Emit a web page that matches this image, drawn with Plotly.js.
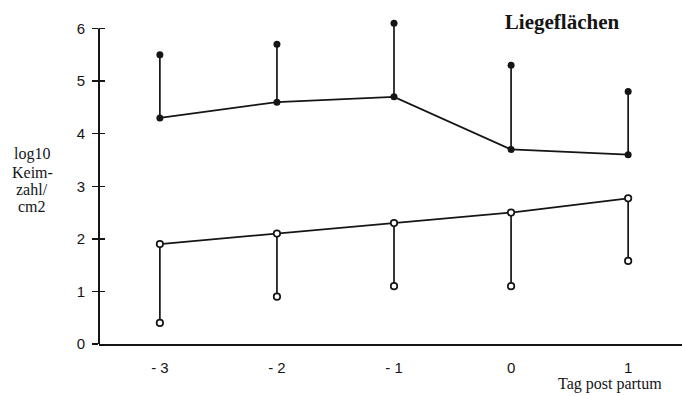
<!DOCTYPE html>
<html><head><meta charset="utf-8">
<script src="https://cdn.plot.ly/plotly-3.0.1.min.js"></script>
<style>html,body{margin:0;padding:0;background:#fff}#c{width:682px;height:396px}</style>
</head><body><div id="c"></div>
<script>
const days = [-3, -2, -1, 0, 1];
const dayLabels = ['- 3', '- 2', '- 1', '0', '1'];
const upperMean = [4.3, 4.6, 4.7, 3.7, 3.6];
const upperTop = [5.5, 5.7, 6.1, 5.3, 4.8];
const lowerMean = [1.9, 2.1, 2.3, 2.5, 2.77];
const lowerBottom = [0.4, 0.9, 1.1, 1.1, 1.58];
const yTitleLines = ['log10', 'Keim-', 'zahl/', 'cm2'];

function segs(a, b) {
  const xs = [], ys = [];
  days.forEach((d, i) => { xs.push(d, d, null); ys.push(a[i], b[i], null); });
  return {x: xs, y: ys};
}
const su = segs(upperMean, upperTop), sl = segs(lowerMean, lowerBottom);
const ink = '#151515';
const traces = [
  {x: su.x, y: su.y, mode: 'lines', line: {color: ink, width: 1.7}, hoverinfo: 'skip'},
  {x: sl.x, y: sl.y, mode: 'lines', line: {color: ink, width: 1.7}, hoverinfo: 'skip'},
  {x: days, y: upperMean, mode: 'lines+markers', line: {color: ink, width: 1.7},
   marker: {color: ink, size: 7}},
  {x: days, y: upperTop, mode: 'markers', marker: {color: ink, size: 7}},
  {x: days, y: lowerMean, mode: 'lines+markers', line: {color: ink, width: 1.7},
   marker: {color: '#fff', size: 6.5, line: {color: ink, width: 1.7}}},
  {x: days, y: lowerBottom, mode: 'markers',
   marker: {color: '#fff', size: 6.5, line: {color: ink, width: 1.7}}},
  {x: [days[0]], y: [0], yaxis: 'y2', mode: 'markers', marker: {opacity: 0}, hoverinfo: 'skip'}
];
const tickFont = {family: 'Liberation Sans, Arial, sans-serif', size: 15, color: ink};
const serif = 'Liberation Serif, Times New Roman, serif';
const plotTop = 18, plotH = 326;
const yTitleCenters = [154, 172, 189, 206];
const annotations = yTitleLines.map((t, i) => ({
  text: t, xref: 'paper', yref: 'paper', x: (32 - 99) / 583, y: (plotTop + plotH - yTitleCenters[i]) / plotH,
  xanchor: 'center', yanchor: 'middle', showarrow: false,
  font: {family: serif, size: 16, color: ink}
}));
annotations.push({text: 'Tag post partum', xref: 'paper', yref: 'paper', x: (610 - 99) / 583,
  y: (plotTop + plotH - 384) / plotH, xanchor: 'center', yanchor: 'middle', showarrow: false,
  font: {family: serif, size: 16, color: ink}});
const layout = {
  width: 682, height: 396, showlegend: false,
  paper_bgcolor: '#fff', plot_bgcolor: '#fff',
  margin: {l: 99, r: 0, t: plotTop, b: 396 - plotTop - plotH},
  title: {text: '<b>Liegeflächen</b>', font: {family: serif, size: 21, color: ink},
          x: (562 - 99) / 583, xref: 'paper', xanchor: 'center', y: 1 - 22/396, yref: 'container', yanchor: 'middle'},
  xaxis: {range: [-3.52, 1.46], tickvals: days, ticktext: dayLabels, showgrid: false, zeroline: false,
          showline: true, linecolor: ink, linewidth: 2, ticks: '', ticklabelstandoff: 9,
          tickfont: tickFont},
  yaxis: {range: [0, 6.2], tickvals: [0,1,2,3,4,5,6], showgrid: false, zeroline: false,
          showline: false, ticks: 'outside', ticklen: 6, tickwidth: 1.5, tickcolor: ink,
          ticklabelstandoff: 4, tickfont: tickFont},
  yaxis2: {overlaying: 'y', matches: 'y', side: 'left', tickvals: [0,1,2,3,4,5,6], showgrid: false, zeroline: false,
           showline: false, ticks: 'inside', ticklen: 6, tickwidth: 1.5, tickcolor: ink, showticklabels: false},
  shapes: [{type: 'line', xref: 'paper', yref: 'y', x0: 0, x1: 0, y0: 0, y1: 6, line: {color: ink, width: 2}}],
  annotations: annotations
};
Plotly.newPlot('c', traces, layout, {displayModeBar: false, staticPlot: true});
</script></body></html>
